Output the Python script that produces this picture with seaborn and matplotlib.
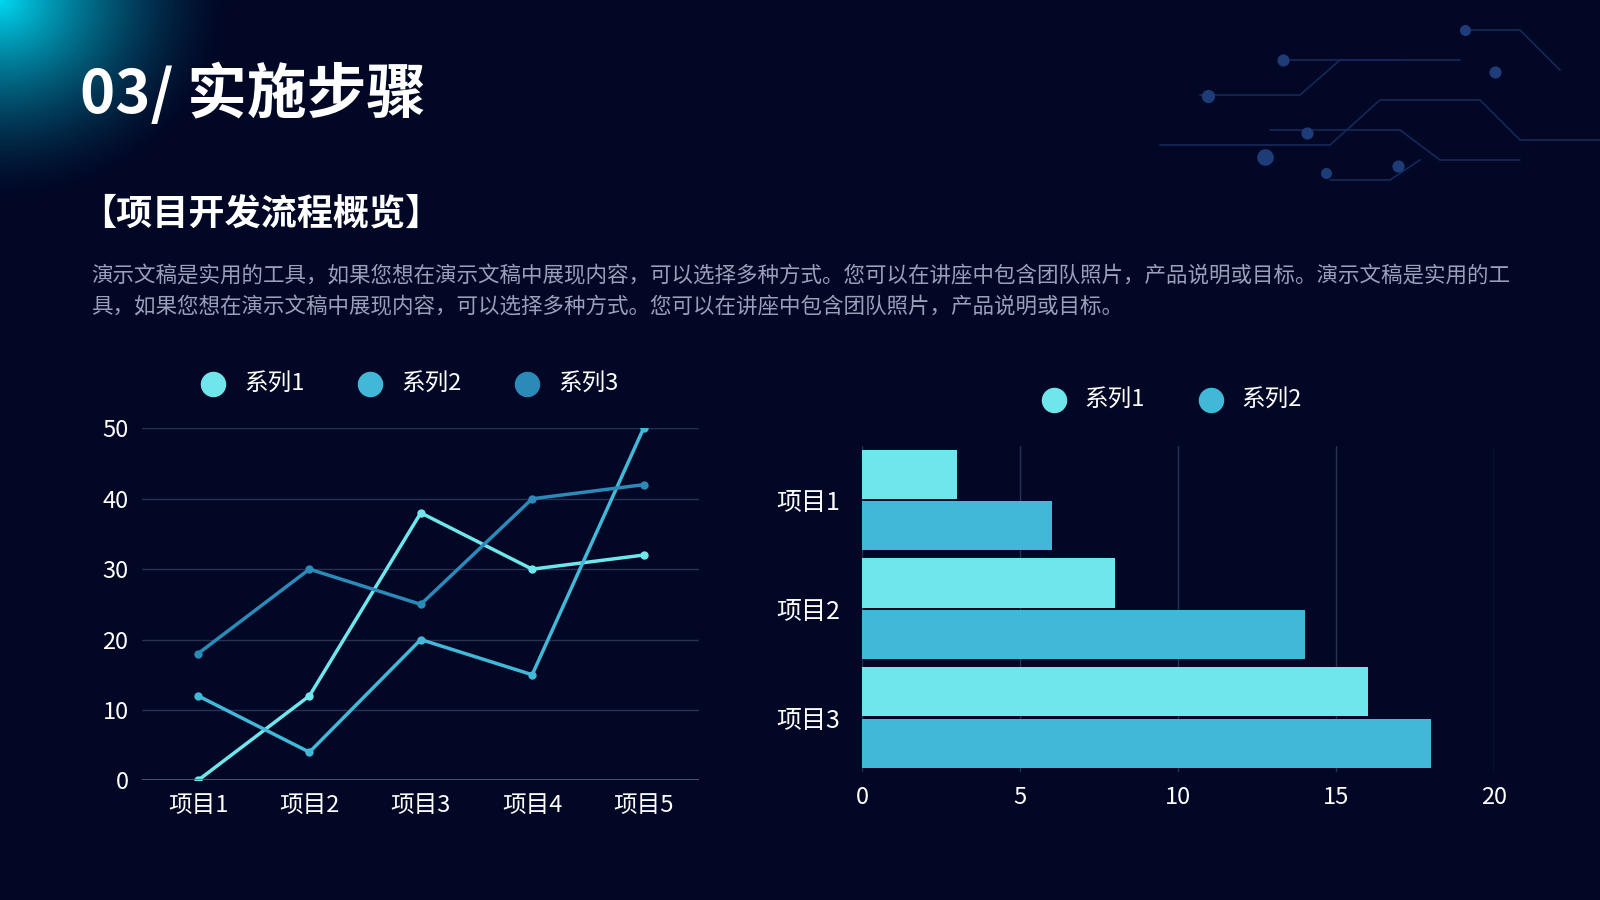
import matplotlib
matplotlib.use("Agg")
import matplotlib.pyplot as plt
import seaborn as sns
import numpy as np
import pandas as pd

items5 = ["项目1", "项目2", "项目3", "项目4", "项目5"]
line_s1 = [0, 12, 38, 30, 32]
line_s2 = [12, 4, 20, 15, 50]
line_s3 = [18, 30, 25, 40, 42]
items3 = ["项目1", "项目2", "项目3"]
bar_s1 = [3, 8, 16]
bar_s2 = [6, 14, 18]
series_names = ["系列1", "系列2", "系列3"]
colors = ["#6EE6EC", "#42B8D8", "#2B8AB8"]
bg = "#020726"

sns.set_theme(style="dark")
plt.rcParams['font.family'] = ['Noto Sans CJK SC', 'DejaVu Sans']

fig = plt.figure(figsize=(16, 9), dpi=100)
fig.patch.set_facecolor(bg)

bax = fig.add_axes([0, 0, 1, 1], zorder=-1)
bax.set_xlim(0, 1600); bax.set_ylim(900, 0); bax.axis("off")
yy, xx = np.mgrid[0:900, 0:1600]
d = np.sqrt((xx / 230.0) ** 2 + (yy / 200.0) ** 2)
a = np.clip(1 - d, 0, 1) ** 1.5
img = np.zeros((900, 1600, 4))
img[..., 0] = 0.0; img[..., 1] = 0.85; img[..., 2] = 0.95; img[..., 3] = a
bax.imshow(img, extent=(0, 1600, 900, 0), aspect="auto")
cc = "#14295A"
paths = [[(1160, 145), (1330, 145), (1380, 100), (1480, 100), (1520, 140), (1600, 140)],
         [(1200, 95), (1300, 95), (1340, 60), (1460, 60)],
         [(1270, 130), (1400, 130), (1440, 160), (1520, 160)],
         [(1330, 180), (1390, 180), (1420, 160)],
         [(1280, 60), (1400, 60)],
         [(1470, 30), (1520, 30), (1560, 70)]]
for p in paths:
    xs, ys = zip(*p)
    bax.plot(xs, ys, color=cc, lw=1.2)
for (x, y, s) in [(1265, 157, 10), (1208, 96, 6), (1283, 60, 5), (1307, 133, 5), (1398, 166, 5), (1495, 72, 5), (1465, 30, 4), (1326, 173, 4)]:
    bax.scatter([x], [y], s=s * 12, color="#1E3C78", zorder=3)

fig.text(0.05, 0.895, "03/ 实施步骤", color="white", fontsize=43, fontweight="bold", va="center")
fig.text(0.05, 0.762, "【项目开发流程概览】", color="white", fontsize=26, fontweight="bold", va="center")
desc = ("演示文稿是实用的工具，如果您想在演示文稿中展现内容，可以选择多种方式。您可以在讲座中包含团队照片，产品说明或目标。演示文稿是实用的工\n"
        "具，如果您想在演示文稿中展现内容，可以选择多种方式。您可以在讲座中包含团队照片，产品说明或目标。")
fig.text(0.057, 0.676, desc, color="#9AA0B8", fontsize=15.5, va="center", linespacing=1.55)

ax1 = fig.add_axes([0.089, 0.133, 0.348, 0.391])
ax1.set_facecolor(bg)
df = pd.DataFrame({"item": items5 * 3,
                   "value": line_s1 + line_s2 + line_s3,
                   "series": sum([[n] * 5 for n in series_names], [])})
sns.lineplot(data=df, x="item", y="value", hue="series", palette=colors, marker="o",
             markersize=6, markeredgewidth=0, lw=2.5, ax=ax1, legend=False, sort=False)
ax1.set_xlim(-0.5, 4.5); ax1.set_ylim(0, 50)
ax1.set_yticks([0, 10, 20, 30, 40, 50])
ax1.grid(axis="y", color="#2A3050", lw=1); ax1.grid(axis="x", visible=False)
for s in ax1.spines.values(): s.set_visible(False)
ax1.axhline(0, color="#5A6080", lw=1.2)
ax1.tick_params(colors="white", labelsize=17, length=0, pad=10)
ax1.set_xlabel(""); ax1.set_ylabel("")
for i, n in enumerate(series_names):
    ax1.scatter([], [], color=colors[i], s=300, label=n)
ax1.legend(loc="lower center", bbox_to_anchor=(0.47, 1.035), ncol=3, frameon=False,
           labelcolor="white", fontsize=17, handletextpad=0.3, columnspacing=1.8)

ax2 = fig.add_axes([0.539, 0.142, 0.395, 0.363])
ax2.set_facecolor(bg)
dfb = pd.DataFrame({"item": items3 * 2, "value": bar_s1 + bar_s2,
                    "series": ["系列1"] * 3 + ["系列2"] * 3})
sns.barplot(data=dfb, y="item", x="value", hue="series", palette=colors[:2], orient="h",
            width=0.95, gap=0.05, ax=ax2, legend=False, saturation=1, linewidth=0)
ax2.set_xlim(0, 20); ax2.set_ylim(2.5, -0.5)
ax2.set_xticks([0, 5, 10, 15, 20])
ax2.grid(axis="x", color="#2A3050", lw=1); ax2.grid(axis="y", visible=False)
ax2.set_axisbelow(True)
for s in ax2.spines.values(): s.set_visible(False)
ax2.tick_params(colors="white", labelsize=17, length=0, pad=10)
ax2.tick_params(axis="y", labelsize=18, pad=16)
ax2.set_xlabel(""); ax2.set_ylabel("")
for i in range(2):
    ax2.scatter([], [], color=colors[i], s=300, label=series_names[i])
ax2.legend(loc="lower center", bbox_to_anchor=(0.48, 1.04), ncol=2, frameon=False,
           labelcolor="white", fontsize=17, handletextpad=0.3, columnspacing=1.8)

fig.savefig("out.png", dpi=100, facecolor=bg)
